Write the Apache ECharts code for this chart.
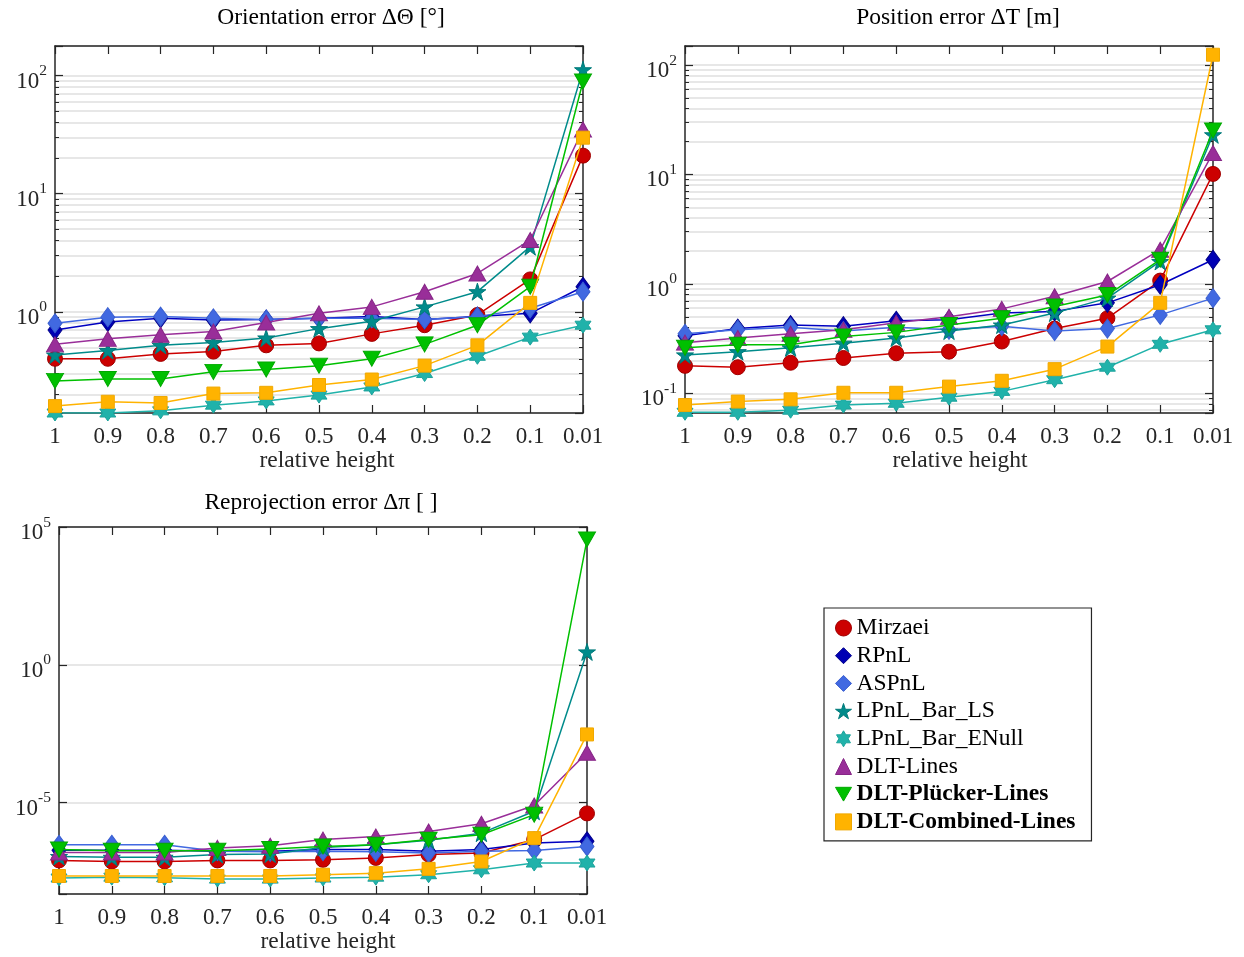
<!DOCTYPE html>
<html><head><meta charset="utf-8">
<script src="https://cdn.jsdelivr.net/npm/echarts@6/dist/echarts.min.js"></script>
<style>html,body{margin:0;padding:0;background:#fff}#c{width:1244px;height:957px}</style>
</head><body><div id="c"></div><script>
// ---------------- DATA ----------------
const categories = ['1','0.9','0.8','0.7','0.6','0.5','0.4','0.3','0.2','0.1','0.01'];
const methodNames = ['Mirzaei','RPnL','ASPnL','LPnL_Bar_LS','LPnL_Bar_ENull','DLT-Lines','DLT-Plücker-Lines','DLT-Combined-Lines'];
const plotTitles = ['Orientation error ΔΘ [°]','Position error ΔT [m]','Reprojection error Δπ [ ]'];
const xAxisTitle = 'relative height';

// Orientation error
const orientMirzaei  = [0.40,0.40,0.44,0.46,0.52,0.54,0.65,0.77,0.94,1.88,21];
const orientRPnL     = [0.70,0.82,0.88,0.85,0.86,0.88,0.91,0.86,0.91,0.97,1.63];
const orientASPnL    = [0.80,0.90,0.91,0.88,0.86,0.88,0.88,0.86,0.91,1.07,1.48];
const orientLS       = [0.43,0.47,0.52,0.55,0.60,0.72,0.83,1.10,1.48,3.56,112];
const orientENull    = [0.139,0.139,0.145,0.162,0.176,0.197,0.231,0.30,0.42,0.61,0.77];
const orientDLT      = [0.53,0.59,0.64,0.68,0.81,0.97,1.10,1.48,2.11,4.05,35];
const orientPlucker  = [0.26,0.27,0.27,0.31,0.325,0.35,0.40,0.53,0.77,1.63,89];
const orientCombined = [0.159,0.173,0.169,0.203,0.206,0.24,0.267,0.35,0.52,1.19,29.8];

// Position error
const posMirzaei  = [0.178,0.173,0.19,0.21,0.232,0.24,0.297,0.39,0.485,1.07,10.1];
const posRPnL     = [0.335,0.39,0.42,0.41,0.46,0.47,0.54,0.56,0.67,0.98,1.66];
const posASPnL    = [0.35,0.38,0.40,0.37,0.40,0.38,0.41,0.37,0.39,0.52,0.74];
const posLS       = [0.224,0.24,0.26,0.287,0.32,0.37,0.42,0.54,0.74,1.6,23];
const posENull    = [0.067,0.067,0.070,0.078,0.081,0.092,0.104,0.133,0.173,0.28,0.38];
const posDLT      = [0.29,0.32,0.35,0.38,0.44,0.50,0.59,0.77,1.05,2.05,15.7];
const posPlucker  = [0.26,0.277,0.277,0.33,0.36,0.42,0.485,0.62,0.79,1.66,25.2];
const posCombined = [0.078,0.084,0.088,0.101,0.101,0.115,0.13,0.166,0.267,0.67,124];

// Reprojection error
const reprMirzaei  = [8.1e-8,7.4e-8,7.4e-8,8.1e-8,8.1e-8,8.5e-8,1.0e-7,1.32e-7,1.51e-7,4.6e-7,4.1e-6];
const reprRPnL     = [1.9e-7,1.9e-7,1.9e-7,1.74e-7,1.74e-7,2.0e-7,2.0e-7,1.74e-7,2.0e-7,3.5e-7,4.0e-7];
const reprASPnL    = [3.0e-7,3.0e-7,3.0e-7,1.74e-7,1.66e-7,1.74e-7,1.66e-7,1.51e-7,1.74e-7,1.86e-7,2.6e-7];
const reprLS       = [1.12e-7,1.05e-7,1.05e-7,1.32e-7,1.38e-7,2.4e-7,3.0e-7,4.4e-7,7.9e-7,4.9e-6,2.95];
const reprENull    = [1.86e-8,2.0e-8,1.9e-8,1.7e-8,1.7e-8,1.86e-8,2.0e-8,2.45e-8,3.7e-8,6.5e-8,6.5e-8];
const reprDLT      = [1.58e-7,1.58e-7,1.58e-7,2.3e-7,2.75e-7,4.6e-7,6.0e-7,9.1e-7,1.74e-6,7.9e-6,6.5e-4];
const reprPlucker  = [2.0e-7,1.82e-7,1.82e-7,1.82e-7,2.1e-7,2.6e-7,3.0e-7,4.6e-7,6.9e-7,3.7e-6,3.5e4];
const reprCombined = [2.2e-8,2.2e-8,2.2e-8,2.2e-8,2.2e-8,2.45e-8,2.8e-8,4.0e-8,7.4e-8,5.2e-7,3.0e-3];

const plotData = [
  [orientMirzaei,orientRPnL,orientASPnL,orientLS,orientENull,orientDLT,orientPlucker,orientCombined],
  [posMirzaei,posRPnL,posASPnL,posLS,posENull,posDLT,posPlucker,posCombined],
  [reprMirzaei,reprRPnL,reprASPnL,reprLS,reprENull,reprDLT,reprPlucker,reprCombined]
];

// ---------------- STYLE ----------------
const FONT = "'Liberation Serif','Times New Roman',serif";
const INK = '#262626';
const GRIDC = '#dfdfdf';
const TXT = 23.5;
const PENTAGRAM = 'path://M0,-100 L22,-31 L95,-31 L36,12 L59,81 L0,38 L-59,81 L-36,12 L-95,-31 L-22,-31 Z';
const HEXAGRAM = 'path://M0,-100 L29,-50 L87,-50 L58,0 L87,50 L29,50 L0,100 L-29,50 L-87,50 L-58,0 L-87,-50 L-29,-50 Z';
const DOWNTRI = 'path://M-50,-43 L50,-43 L0,43 Z';
const methodStyles = [
  {symbol:'circle',   size:15,      color:'#cc0000', border:'#a00000', line:'#cc0000'},
  {symbol:'diamond',  size:[14,19], color:'#0000b4', border:'#00008a', line:'#0000c0'},
  {symbol:'diamond',  size:[14,19], color:'#4169e1', border:'#3a5fd0', line:'#4169e1'},
  {symbol:PENTAGRAM,  size:17,      color:'#008b8b', border:'#007a7a', line:'#008b8b'},
  {symbol:HEXAGRAM,   size:16,      color:'#20b2aa', border:'#1ca39c', line:'#20b2aa'},
  {symbol:'triangle', size:[17,15], color:'#992e99', border:'#862686', line:'#992e99'},
  {symbol:DOWNTRI,    size:[17,15], color:'#00c000', border:'#00a800', line:'#00c000'},
  {symbol:'rect',     size:13,      color:'#ffb300', border:'#f0a800', line:'#ffb300'}
];

// grids: [left, top, width, height]
const gridBoxes = [[55,46,528,367],[685,46,528,367],[59,527,528,367]];
const yRanges = [[0.139,178],[0.066,149],[4.9e-9,1e5]];
const yLogBase = [10,10,100000];
const nameShift = [16,22,10];
const titleCenters = [[331,6],[958,6],[321,491]];

function logLabel(v) {
  const e = Math.log10(v);
  const r = Math.round(e);
  if (Math.abs(e - r) > 1e-6) return '';
  return '{b|10}{s|' + r + '}';
}
const richLabel = {
  b: {fontFamily: FONT, fontSize: 23, color: INK, lineHeight: 30, verticalAlign: 'bottom'},
  s: {fontFamily: FONT, fontSize: 15.5, color: INK, lineHeight: 14, verticalAlign: 'top'}
};

const grids = gridBoxes.map(b => ({left:b[0], top:b[1], width:b[2], height:b[3], containLabel:false}));
const xAxes = [], yAxes = [];
for (let g = 0; g < 3; g++) {
  xAxes.push({
    type:'category', gridIndex:g, data:categories, boundaryGap:false, position:'bottom',
    axisLine:{show:true, onZero:false, lineStyle:{color:INK, width:1.5}},
    axisTick:{show:true, inside:true, length:8, alignWithLabel:true, lineStyle:{color:INK, width:1.2}},
    axisLabel:{interval:0, margin:12, fontFamily:FONT, fontSize:23, color:INK},
    splitLine:{show:false},
    name:xAxisTitle, nameLocation:'middle', nameGap:35,
    nameTextStyle:{fontFamily:FONT, fontSize:TXT, color:INK, padding:[0,0,0,nameShift[g]]}
  });
}
for (let g = 0; g < 3; g++) {
  xAxes.push({
    type:'category', gridIndex:g, data:categories, boundaryGap:false, position:'top',
    axisLine:{show:true, onZero:false, lineStyle:{color:INK, width:1.5}},
    axisTick:{show:true, inside:true, length:8, lineStyle:{color:INK, width:1.2}},
    axisLabel:{show:false}, splitLine:{show:false}
  });
}
for (let side = 0; side < 2; side++) {
  for (let g = 0; g < 3; g++) {
    const minor = g < 2;
    yAxes.push({
      type:'log', logBase:yLogBase[g], gridIndex:g, position: side === 0 ? 'left' : 'right',
      min:yRanges[g][0], max:yRanges[g][1],
      axisLine:{show:true, onZero:false, lineStyle:{color:INK, width:1.5}},
      axisTick:{show:true, inside:true, length:8, lineStyle:{color:INK, width:1.2}},
      minorTick:{show:minor, splitNumber:9, length:4, lineStyle:{color:INK, width:1}},
      axisLabel: side === 0 ? {show:true, formatter:logLabel, rich:richLabel, margin:8, padding:[5,0,0,0]} : {show:false},
      splitLine:{show: side === 0, lineStyle:{color:GRIDC, width:1.5}},
      minorSplitLine:{show: side === 0 && minor, lineStyle:{color:GRIDC, width:1.5}}
    });
  }
}

const series = [];
for (let g = 0; g < 3; g++) {
  for (let m = 0; m < methodNames.length; m++) {
    const st = methodStyles[m];
    series.push({
      type:'line', name:methodNames[m], xAxisIndex:g, yAxisIndex:g,
      data:plotData[g][m], symbol:st.symbol, symbolSize:st.size, showAllSymbol:true,
      clip:true,
      lineStyle:{color:st.line, width:1.5},
      itemStyle:{color:st.color, borderColor:st.border, borderWidth:1},
      emphasis:{disabled:true}, animation:false, z:2 + m
    });
  }
}

const legendData = methodNames.map((n, m) => ({
  name:n, icon: methodStyles[m].symbol,
  itemStyle:{color:methodStyles[m].color, borderColor:methodStyles[m].border, borderWidth:1},
  textStyle: m >= 6 ? {fontWeight:'bold'} : {}
}));

const option = {
  backgroundColor:'#fff',
  animation:false,
  title: plotTitles.map((t, i) => ({
    text:t, left:titleCenters[i][0], top:titleCenters[i][1], textAlign:'center', padding:0,
    textStyle:{fontFamily:FONT, fontSize:TXT, fontWeight:'normal', color:'#000'}
  })),
  legend: {
    orient:'vertical', left:824, top:608, padding:[8,16,7,11], itemGap:3.7, itemWidth:16, itemHeight:16,
    borderColor:INK, borderWidth:1.2, backgroundColor:'#fff', selectedMode:false,
    textStyle:{fontFamily:FONT, fontSize:TXT, color:'#000', padding:[0,0,0,0]},
    data: legendData
  },
  grid: grids,
  xAxis: xAxes,
  yAxis: yAxes,
  series: series
};
const chart = echarts.init(document.getElementById('c'), null, {renderer:'canvas'});
chart.setOption(option);
</script></body></html>
